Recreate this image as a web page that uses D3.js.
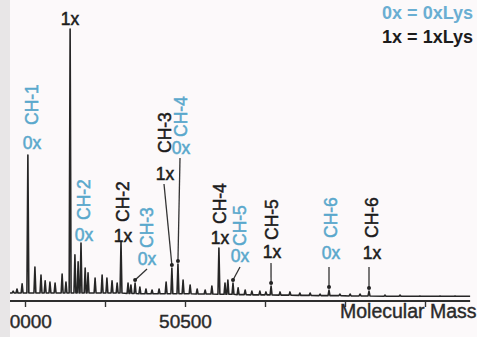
<!DOCTYPE html>
<html>
<head>
<meta charset="utf-8">
<script src="https://cdn.jsdelivr.net/npm/d3@7"></script>
<style>
  html, body { margin: 0; padding: 0; background: #fcf9fa; }
  svg { display: block; font-family: "Liberation Sans", Arial, sans-serif; }
</style>
</head>
<body>
<div id="chart"></div>
<script>
//
// DATA
//
// spectrum peaks (mass in Da, relative intensity)
const peakMass = [49963, 49975, 49991, 50009, 50031, 50050, 50063, 50078, 50094, 50116,
    50128, 50141, 50156, 50166, 50175, 50188, 50197, 50219, 50241, 50256,
    50272, 50288, 50300, 50322, 50331, 50344, 50359, 50378, 50397, 50419,
    50441, 50459, 50478, 50494, 50516, 50538, 50563, 50584, 50606, 50625,
    50634, 50650, 50666, 50688, 50709, 50734, 50753, 50769, 50797, 50828,
    50859, 50891, 50922, 50950, 50984, 51016, 51047, 51075, 51125, 51172,
    51234, 51297, 51344]
const peakInt = [2.2, 3.0, 4.9, 53.0, 11.2, 8.2, 6.0, 5.6, 5.2, 8.6,
    5.6, 100, 15.7, 13.1, 20.1, 10.8, 9.0, 7.1, 8.2, 7.1,
    6.0, 5.2, 20.5, 5.2, 4.5, 5.2, 3.7, 3.0, 2.6, 3.0,
    5.6, 10.8, 12.3, 6.3, 4.5, 3.0, 2.6, 4.1, 18.3, 5.2,
    6.3, 5.2, 3.4, 2.6, 2.2, 2.2, 1.9, 4.1, 1.9, 1.9,
    1.5, 1.5, 1.1, 2.6, 1.1, 1.1, 1.1, 2.2, 0.7, 0.7,
    0.4, 0.4, 0.4]
// level of the trace at the foot of each peak
const footInt = [1.5, 1.5, 1.5, 1.5, 1.5, 1.5, 1.5, 1.5, 1.5, 1.5,
    1.5, 1.5, 1.5, 1.5, 1.5, 1.5, 1.5, 1.5, 1.5, 1.5,
    1.5, 1.5, 1.5, 1.3, 1.3, 1.3, 1.2, 1.2, 1.2, 1.2,
    1.2, 1.2, 1.2, 1.2, 1.2, 1.1, 1.1, 1.1, 1.0, 1.0,
    1.0, 1.0, 0.9, 0.9, 0.8, 0.8, 0.8, 0.8, 0.7, 0.7,
    0.6, 0.6, 0.5, 0.5, 0.5, 0.4, 0.4, 0.4, 0.3, 0.3,
    0.3, 0.3, 0.3]
const massMin = 49953
const massMax = 51391

// axis ticks
const tickMass = [50000, 50250, 50500, 50750, 51000, 51250]
const tickLabels = ['50000', '', '50500', '', '', '']

// peak annotations
const annChain = ['CH-1', 'CH-1', 'CH-2', 'CH-2', 'CH-3', 'CH-3',
    'CH-4', 'CH-4', 'CH-5', 'CH-5', 'CH-6', 'CH-6']
const annLys = [0, 1, 0, 1, 0, 1, 0, 1, 0, 1, 0, 1]
const annMass = [50009, 50141, 50175, 50300, 50344, 50459,
    50478, 50606, 50650, 50769, 50950, 51075]

// legend
const legendText = ['0x = 0xLys', '1x = 1xLys']

//
// LAYOUT
//
const width = 477
const height = 337
const blue = '#5aa8cc'
const dark = '#1c1c1c'
const axisY = 301
// label centre x, label baseline y, bottom of rotated chain name, arrow start
const annLayout = [
    { lx: 32, ly: 149, chBot: 125 },
    { lx: 70, ly: 25, chBot: null },
    { lx: 84, ly: 241, chBot: 220 },
    { lx: 123, ly: 242, chBot: 222 },
    { lx: 147, ly: 265, chBot: 248, ax: 147, ay: 269 },
    { lx: 165, ly: 180, chBot: 153, ax: 164, ay: 184 },
    { lx: 181, ly: 154, chBot: 137, ax: 180, ay: 158 },
    { lx: 220, ly: 244, chBot: 224 },
    { lx: 240, ly: 262, chBot: 246, ax: 240, ay: 267 },
    { lx: 272, ly: 258, chBot: 240, ax: 271, ay: 263 },
    { lx: 331, ly: 259, chBot: 238, ax: 329, ay: 267 },
    { lx: 372, ly: 259, chBot: 238, ax: 369, ay: 267 }
]

const svg = d3.select('#chart')
    .append('svg')
    .attr('width', width)
    .attr('height', height)

svg.append('rect')
    .attr('width', width)
    .attr('height', height)
    .attr('fill', '#fcf9fa')

const x = d3.scaleLinear().domain([50000, 51250]).range([25, 425])
const y = d3.scaleLinear().domain([0, 100]).range([297, 29])

// 1) spectrum trace: foot - apex - foot for every peak
const halfWidth = 3
const pts = [[massMin, footInt[0]]]
peakMass.forEach((m, i) => {
    pts.push([m - halfWidth, footInt[i]], [m, peakInt[i]], [m + halfWidth, footInt[i]])
})
pts.push([massMax, footInt[footInt.length - 1]])

const line = d3.line()
    .x(d => x(d[0]))
    .y(d => y(d[1]))

svg.append('path')
    .attr('d', line(pts))
    .attr('fill', 'none')
    .attr('stroke', '#262626')
    .attr('stroke-width', 1.6)
    .attr('stroke-linejoin', 'round')

// 2) the x axis
const axis = d3.axisBottom(x)
    .tickValues(tickMass)
    .tickFormat((d, i) => tickLabels[i])
    .tickSize(6)
    .tickSizeOuter(0)

const gAxis = svg.append('g')
    .attr('transform', `translate(0,${axisY})`)
    .call(axis)
gAxis.select('.domain').remove()
gAxis.selectAll('.tick line').attr('stroke', '#333').attr('stroke-width', 1.4)
gAxis.selectAll('.tick text')
    .attr('y', 27)
    .attr('dy', 0)
    .attr('fill', '#2a2a2a')
    .attr('stroke', '#2a2a2a')
    .attr('stroke-width', 0.4)
    .style('font-size', '19px')
    .style('font-family', '"Liberation Sans", Arial, sans-serif')

gAxis.append('line')
    .attr('x1', x(massMin))
    .attr('x2', x(massMax))
    .attr('stroke', '#2e2e2e')
    .attr('stroke-width', 2)

svg.append('text')
    .attr('x', 340)
    .attr('y', 318)
    .attr('fill', '#2a2a2a')
    .attr('stroke', '#2a2a2a')
    .attr('stroke-width', 0.4)
    .style('font-size', '19.5px')
    .text('Molecular Mass')

// 3) annotations
const ann = svg.append('g').attr('class', 'annotations')
annChain.forEach((chain, i) => {
    const lay = annLayout[i]
    const col = annLys[i] === 0 ? blue : dark
    const g = ann.append('g')
    g.append('text')
        .attr('x', lay.lx)
        .attr('y', lay.ly)
        .attr('text-anchor', 'middle')
        .attr('fill', col)
        .attr('stroke', col)
        .attr('stroke-width', 0.5)
        .style('font-size', '17.5px')
        .text(`${annLys[i]}x`)
    if (lay.chBot !== null) {
        g.append('text')
            .attr('transform', `translate(${lay.lx},${lay.chBot}) rotate(-90)`)
            .attr('dy', '0.36em')
            .attr('fill', col)
            .attr('stroke', col)
            .attr('stroke-width', 0.5)
            .style('font-size', '17.5px')
            .text(chain)
    }
    if (lay.ax !== undefined) {
        const k = peakMass.indexOf(annMass[i])
        const tx = x(annMass[i])
        const ty = y(peakInt[k]) - 3
        g.append('line')
            .attr('x1', lay.ax)
            .attr('y1', lay.ay)
            .attr('x2', tx)
            .attr('y2', ty)
            .attr('stroke', '#333')
            .attr('stroke-width', 1.3)
        g.append('circle')
            .attr('cx', tx)
            .attr('cy', ty)
            .attr('r', 2)
            .attr('fill', '#222')
    }
})

// 4) legend
svg.selectAll('text.legend')
    .data(legendText)
    .join('text')
    .attr('class', 'legend')
    .attr('x', 473)
    .attr('y', (d, i) => 19 + i * 24)
    .attr('text-anchor', 'end')
    .attr('fill', (d, i) => (i === 0 ? '#6aaed2' : dark))
    .style('font-size', '18px')
    .style('font-weight', 'bold')
    .text(d => d)

// grey strip on the left edge of the scan
svg.append('rect')
    .attr('width', 10)
    .attr('height', height)
    .attr('fill', '#e8e6e7')
</script>
</body>
</html>
